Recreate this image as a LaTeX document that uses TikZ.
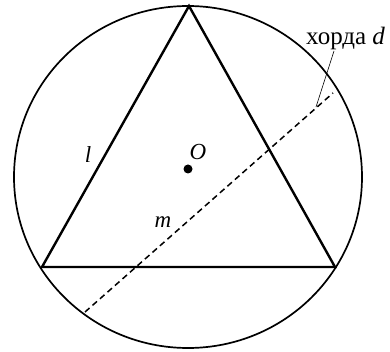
\documentclass[tikz,border=0pt]{standalone}
\usepackage{fontspec}
\setmainfont{Liberation Serif}
\begin{document}
\begin{tikzpicture}[x=1pt,y=-1pt,
  lbl/.style={font=\fontsize{23}{26}\selectfont, inner sep=0pt},
  biglbl/.style={font=\fontsize{25}{28}\selectfont, inner sep=0pt},
  tri/.style={line width=2.4pt, line join=miter},
  chord/.style={line width=1.5pt, dash pattern=on 6pt off 4pt}]
\useasboundingbox (0,0) rectangle (390,352);
\draw[line width=1.7pt] (188,177) ellipse [x radius=174, y radius=171];
\coordinate (A) at (189,6);
\coordinate (B) at (42,267);
\coordinate (C) at (335,267);
\draw[tri] (A) -- (B) -- (C) -- cycle;
\coordinate (P) at (85,312);
\coordinate (Q) at (333,93);
\draw[chord] (P) -- (Q);
\fill (188,169) circle (4.5pt);
\node[lbl] (O) at (198,152) {\itshape O};
\node[lbl] (l) at (88,155) {\itshape l};
\node[lbl] (m) at (163,222) {\itshape m};
\node[biglbl, anchor=base west] (d) at (306,45) {хорда \itshape d};
\coordinate (T) at (316,107);
\coordinate (U) at (334,51);
\draw[line width=0.6pt] (T) -- (U);
\end{tikzpicture}
\end{document}
